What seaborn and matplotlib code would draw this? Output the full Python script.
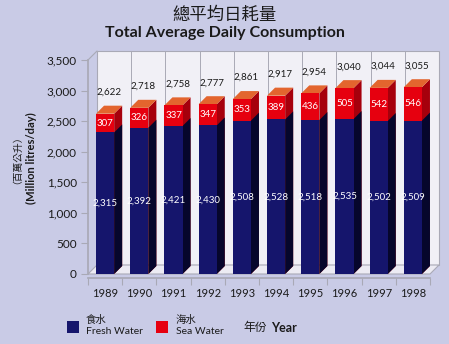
import numpy as np
import pandas as pd
import matplotlib
matplotlib.use("Agg")
import matplotlib.pyplot as plt
import seaborn as sns
from matplotlib.patches import Polygon, Rectangle
from matplotlib.transforms import IdentityTransform, offset_copy

# ---- data ----
years = ["1989", "1990", "1991", "1992", "1993", "1994", "1995", "1996", "1997", "1998"]
fresh = [2315, 2392, 2421, 2430, 2508, 2528, 2518, 2535, 2502, 2509]
sea = [307, 326, 337, 347, 353, 389, 436, 505, 542, 546]
totals = [2622, 2718, 2758, 2777, 2861, 2917, 2954, 3040, 3044, 3055]
yticks = [0, 500, 1000, 1500, 2000, 2500, 3000, 3500]

BG = "#c9cbe6"
WALL = "#f1f0f6"
NAVY = "#15156c"
NAVY_SIDE = "#06062c"
RED = "#e6000f"
RED_SIDE = "#a6000c"
ORANGE = "#e3652e"
GRIDC = "#a9a9b6"
TXT = "#1a1a1a"

sns.set_theme(style="white")
plt.rcParams["font.family"] = ["Lato", "Noto Sans CJK TC", "DejaVu Sans"]
CJK = ["Noto Sans CJK TC", "DejaVu Sans"]

W, H = 449, 344
DPI = 100
fig = plt.figure(figsize=(W / DPI, H / DPI), dpi=DPI, facecolor=BG)
L, R, B, T = 88, 430, 274, 60
ax = fig.add_axes([L / W, (H - B) / H, (R - L) / W, (B - T) / H])
ax.set_facecolor("none")

df = pd.DataFrame({"year": years, "fresh": fresh, "sea": sea})
df["total"] = df["fresh"] + df["sea"]

sns.barplot(data=df, x="year", y="total", color=RED, saturation=1, width=0.53,
            ax=ax, zorder=3, linewidth=0)
red_bars = list(ax.patches)
sns.barplot(data=df, x="year", y="fresh", color=NAVY, saturation=1, width=0.53,
            ax=ax, zorder=3, linewidth=0)
navy_bars = [p for p in ax.patches if p not in red_bars]
ax.set_xlim(-0.5, 9.5)
ax.set_ylim(0, 3500)

DW = 9  # wall depth in px
DB = 8  # bar depth in px
wall_tr = offset_copy(ax.transData, fig=fig, x=DW, y=DW, units="dots")

# back wall
ax.add_patch(Rectangle((-0.5, 0), 10, 3500, transform=wall_tr, facecolor=WALL,
                       edgecolor=GRIDC, linewidth=0.8, zorder=0, clip_on=False))
for b in np.arange(0.5, 9.5, 1.0):
    ax.plot([b, b], [0, 3500], transform=wall_tr, color=GRIDC, lw=0.7,
            zorder=0.5, clip_on=False)

td = ax.transData.transform
def disp_poly(pts, **kw):
    p = Polygon(pts, closed=True, transform=IdentityTransform(), clip_on=False, **kw)
    ax.add_patch(p)

# floor
fl = td([(-0.5, 0), (9.5, 0)])
disp_poly([fl[0], fl[1], fl[1] + DW, fl[0] + DW], facecolor="#ecebf3",
          edgecolor=GRIDC, linewidth=0.8, zorder=0.8)
# left wall top edge
tl = td([(-0.5, 3500)])[0]
ax.plot([tl[0], tl[0] + DW], [tl[1], tl[1] + DW], transform=IdentityTransform(),
        color=GRIDC, lw=0.8, clip_on=False)

for p in red_bars:
    x0, y0 = p.get_x(), p.get_y()
    x1, y1 = x0 + p.get_width(), y0 + p.get_height()
    a, b, c = td([(x1, 0)])[0], td([(x1, y1)])[0], td([(x0, y1)])[0]
    disp_poly([a, b, b + DB, a + DB], facecolor=RED_SIDE, edgecolor="none", zorder=2.5)
    disp_poly([c, b, b + DB, c + DB], facecolor=ORANGE, edgecolor="none", zorder=2.6)
for p in navy_bars:
    x0, y0 = p.get_x(), p.get_y()
    x1, y1 = x0 + p.get_width(), y0 + p.get_height()
    a, b = td([(x1, 0)])[0], td([(x1, y1)])[0]
    disp_poly([a, b, b + DB, a + DB], facecolor=NAVY_SIDE, edgecolor="none", zorder=2.7)

# value labels
for i in range(len(years)):
    ax.text(i, fresh[i] / 2, f"{fresh[i]:,}", color="white", ha="center",
            va="center", fontsize=7, zorder=5)
    ax.text(i, fresh[i] + sea[i] / 2, f"{sea[i]:,}", color="white", ha="center",
            va="center", fontsize=7, zorder=5)
    ax.text(i + 0.12, totals[i] + 350, f"{totals[i]:,}", color=TXT, ha="center",
            va="center", fontsize=7, zorder=5)

# axes styling
for s in ["top", "right"]:
    ax.spines[s].set_visible(False)
ax.spines["left"].set_color(GRIDC)
ax.spines["bottom"].set_color(GRIDC)
ax.spines["bottom"].set_position(("outward", 3))
ax.set_yticks(yticks)
ax.set_yticklabels([f"{v:,}" for v in yticks], fontsize=8.5, color=TXT)
ax.tick_params(axis="y", direction="out", length=5, width=0.8, color=GRIDC, pad=3, left=True)
ax.set_xticks(range(len(years)))
ax.set_xticklabels(years, fontsize=8, color=TXT)
ax.set_xticks(np.arange(-0.5, 10, 1.0), minor=True)
ax.tick_params(axis="x", which="major", length=0, pad=7)
ax.tick_params(axis="x", which="minor", direction="out", length=5, width=0.8,
               color=GRIDC, bottom=True)
ax.set_xlabel("")
ax.set_ylabel("")

# titles
fig.text(225 / W, 1 - 15 / H, "總平均日耗量", ha="center", va="center",
         fontsize=12.5, family=CJK, weight="medium", color=TXT)
fig.text(225 / W, 1 - 33 / H, "Total Average Daily Consumption", ha="center",
         va="center", fontsize=11.5, weight="bold", color=TXT)

# y label
fig.text(12 / W, 1 - 155 / H, "（百萬公升）", rotation=90, ha="center", va="center",
         fontsize=7, family=CJK, color=TXT)
fig.text(31 / W, 1 - 158 / H, "(Million litres/day)", rotation=90, ha="center",
         va="center", fontsize=8, weight="bold", color=TXT)

# legend
def fig_rect(x, y, w, h, color):
    fig.patches.append(Rectangle((x / W, 1 - (y + h) / H), w / W, h / H,
                                 transform=fig.transFigure, facecolor=color,
                                 edgecolor="none"))
fig_rect(67, 321, 12, 12, NAVY)
fig_rect(156, 321, 12, 12, RED)
fig.text(86 / W, 1 - 320 / H, "食水", ha="left", va="center", fontsize=7.5,
         family=CJK, color=TXT)
fig.text(86 / W, 1 - 331 / H, "Fresh Water", ha="left", va="center", fontsize=7.5, color=TXT)
fig.text(176 / W, 1 - 320 / H, "海水", ha="left", va="center", fontsize=7.5,
         family=CJK, color=TXT)
fig.text(176 / W, 1 - 331 / H, "Sea Water", ha="left", va="center", fontsize=7.5, color=TXT)
fig.text(243 / W, 1 - 328 / H, "年份", ha="left", va="center", fontsize=8.5,
         family=CJK, color=TXT)
fig.text(271 / W, 1 - 328 / H, "Year", ha="left", va="center", fontsize=9,
         weight="bold", color=TXT)

fig.savefig("out.png", dpi=DPI, facecolor=BG)
